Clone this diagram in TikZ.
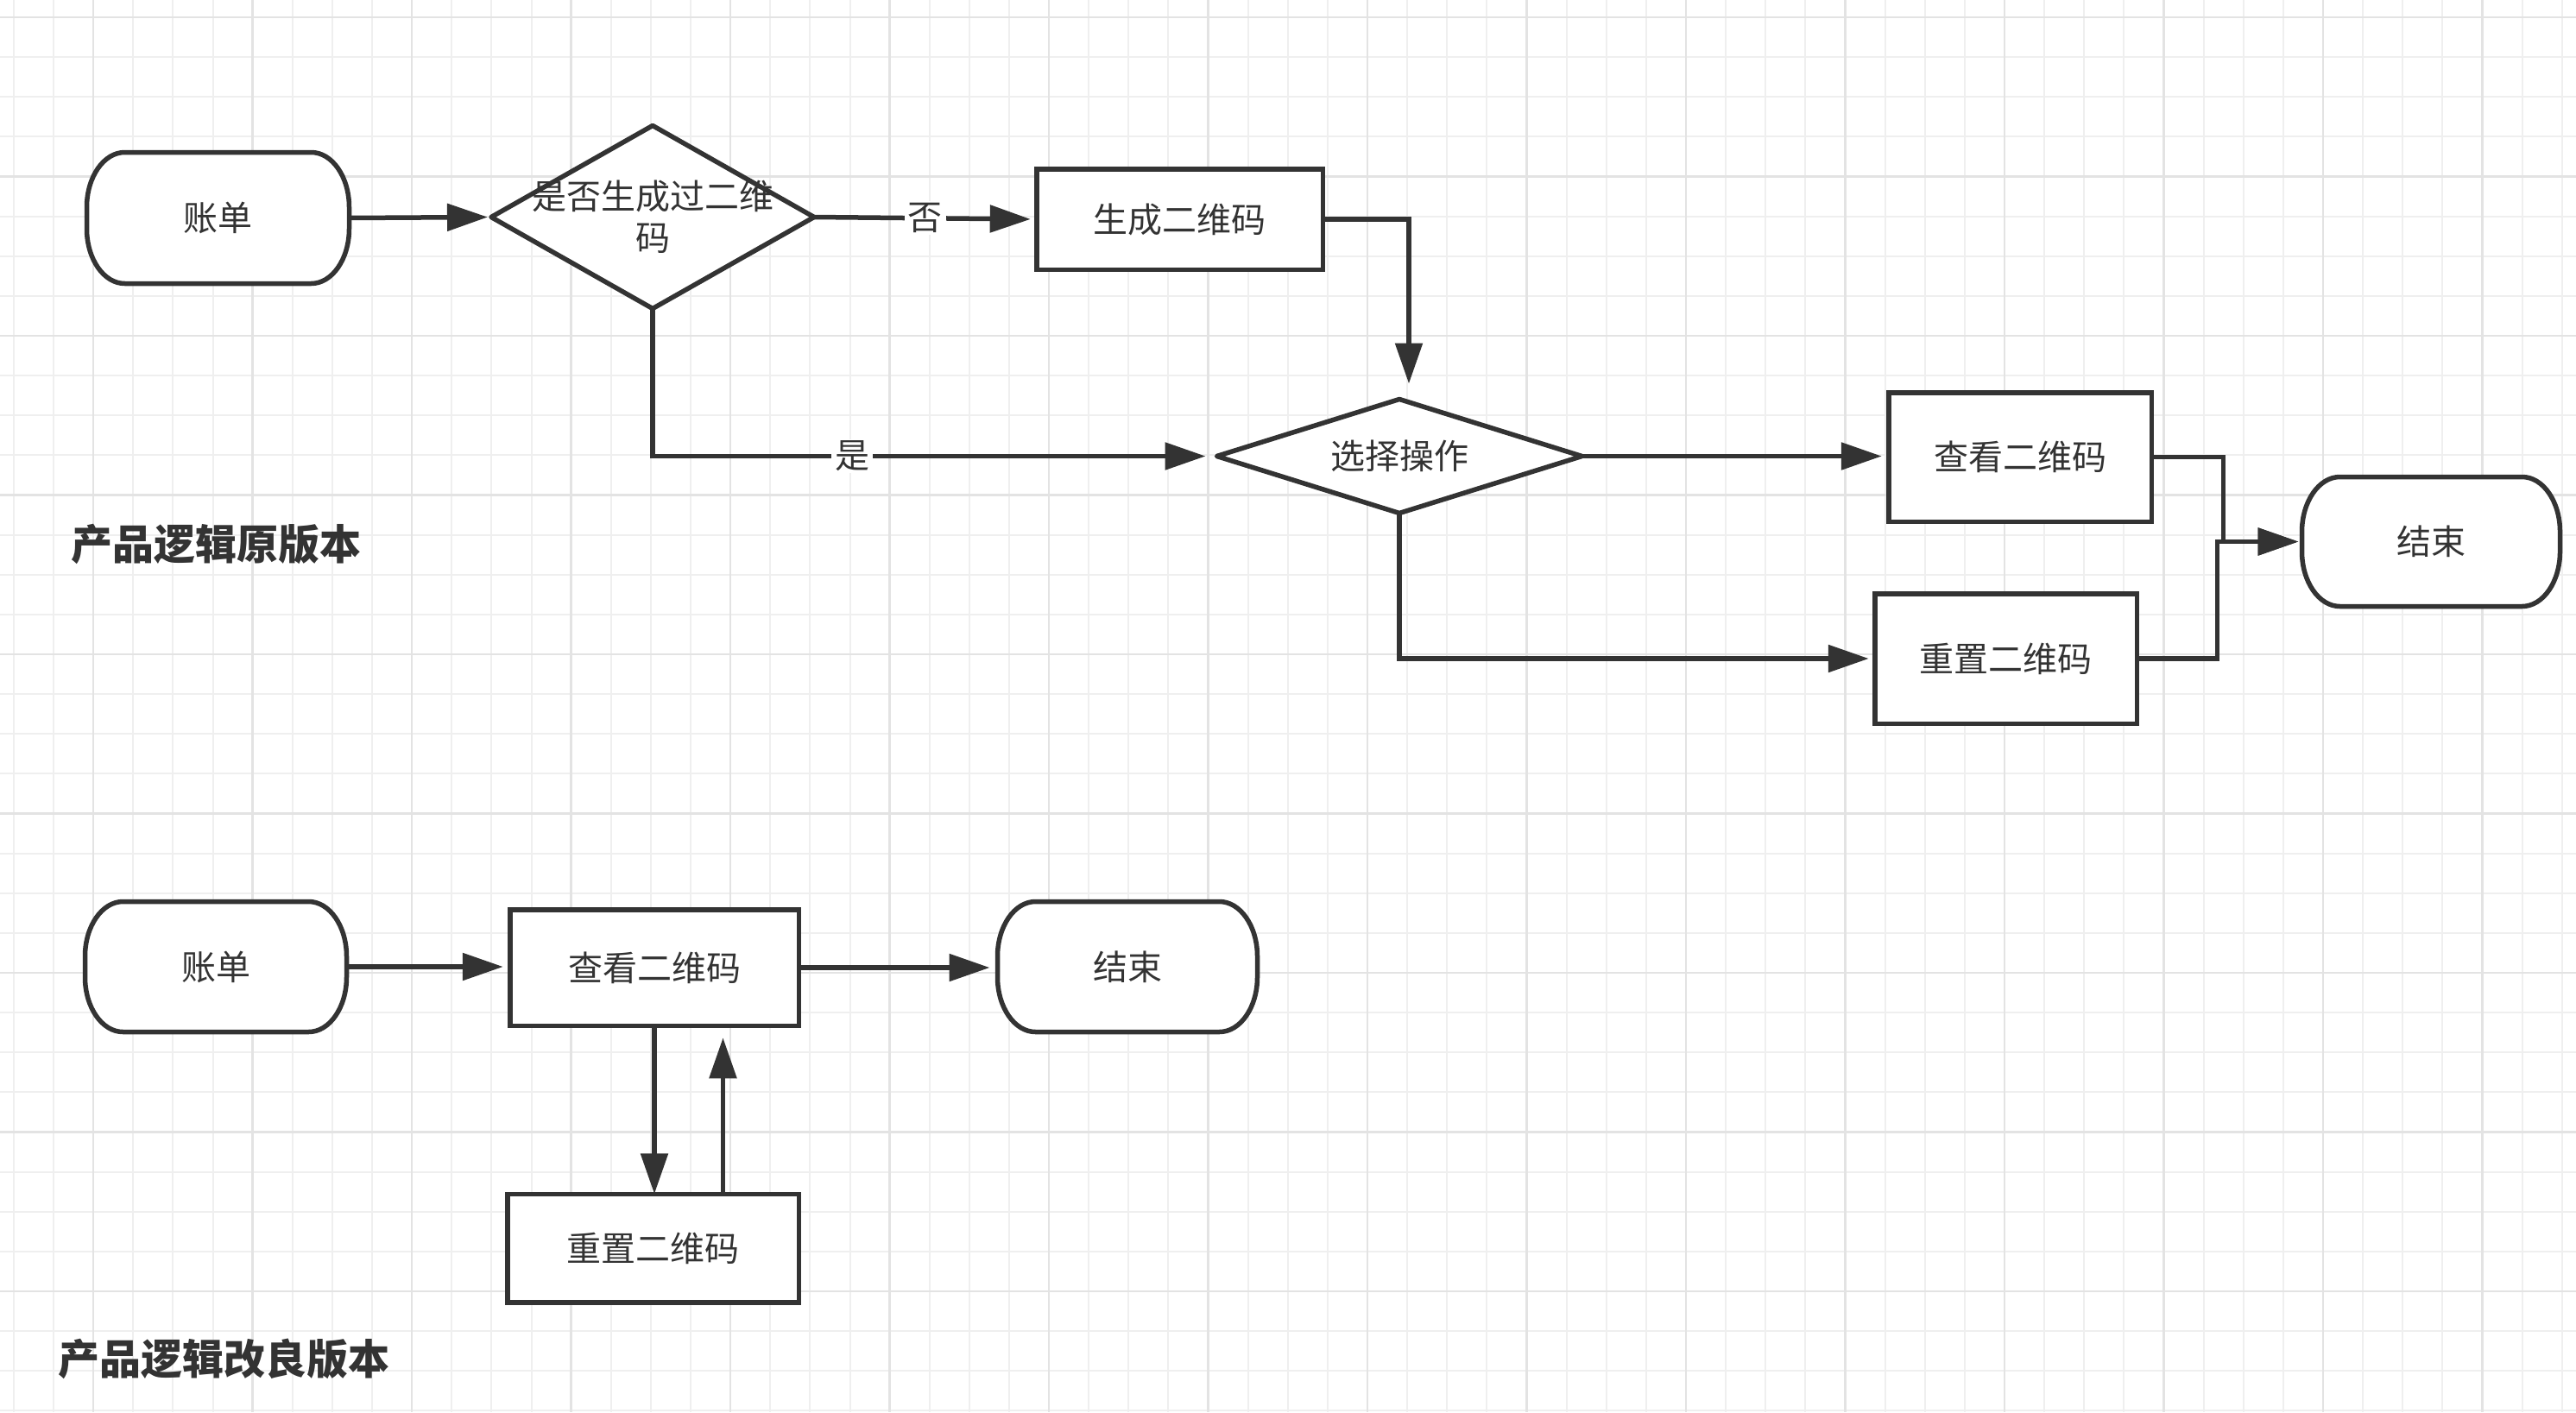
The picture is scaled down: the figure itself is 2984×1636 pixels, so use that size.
\documentclass[tikz,border=0pt]{standalone}
\usepackage{fontspec}
\newfontfamily\cjk{Noto Sans CJK SC}
\usetikzlibrary{arrows.meta}
\definecolor{ink}{HTML}{333333}
\definecolor{gridminor}{HTML}{EFEFEF}
\definecolor{gridmajor}{HTML}{E3E3E3}
\pgfdeclarelayer{bg}
\pgfdeclarelayer{shp}
\pgfsetlayers{bg,shp,main}
\newcommand\termshape[1]{%
  \begin{pgfonlayer}{shp}
  \filldraw[shapeline] ([xshift=44pt]#1.north west) -- ([xshift=-44pt]#1.north east)
    .. controls ([xshift=-19.7pt]#1.north east) and ([yshift=-28.5pt]#1.north east) .. ([yshift=-63.5pt]#1.north east)
    -- ([yshift=63.5pt]#1.south east)
    .. controls ([yshift=28.5pt]#1.south east) and ([xshift=-19.7pt]#1.south east) .. ([xshift=-44pt]#1.south east)
    -- ([xshift=44pt]#1.south west)
    .. controls ([xshift=19.7pt]#1.south west) and ([yshift=28.5pt]#1.south west) .. ([yshift=63.5pt]#1.south west)
    -- ([yshift=-63.5pt]#1.north west)
    .. controls ([yshift=-28.5pt]#1.north west) and ([xshift=19.7pt]#1.north west) .. cycle;
  \end{pgfonlayer}}
\newcommand\diamondshape[1]{%
  \begin{pgfonlayer}{shp}
  \filldraw[shapeline, line join=round] (#1.north) -- (#1.east) -- (#1.south) -- (#1.west) -- cycle;
  \end{pgfonlayer}}
\begin{document}
\begin{tikzpicture}[x=1pt,y=-1pt,
  every node/.style={inner sep=0pt, outer sep=0pt},
  nodefont/.style={font=\cjk\fontsize{40pt}{48pt}\selectfont, text=ink, align=center},
  shapeline/.style={draw=ink, fill=white, line width=5.5pt},
  box/.style={nodefont, draw=ink, fill=white, line width=5.5pt, rectangle},
  ghost/.style={nodefont, rectangle},
  conn/.style={draw=ink, line width=5.5pt, -{Triangle[length=47pt,width=31pt]}},
  lbl/.style={nodefont, fill=white, inner xsep=4pt, inner ysep=2pt},
  title/.style={font=\cjk\bfseries\fontsize{48pt}{56pt}\selectfont, text=ink}
]
\useasboundingbox (0,0) rectangle (2984,1636);
\begin{pgfonlayer}{bg}
  \fill[white] (0,0) rectangle (2984,1636);
  \foreach \i in {0,...,64} {
    \pgfmathsetmacro\xx{16+46.12*\i}
    \draw[gridminor, line width=2pt] (\xx,0) -- (\xx,1636);
  }
  \foreach \i in {0,...,35} {
    \pgfmathsetmacro\yy{20+46.12*\i}
    \draw[gridminor, line width=2pt] (0,\yy) -- (2984,\yy);
  }
  \foreach \i in {0,...,15} {
    \pgfmathsetmacro\xx{108.24+184.48*\i}
    \draw[gridmajor, line width=2.5pt] (\xx,0) -- (\xx,1636);
  }
  \foreach \i in {0,...,8} {
    \pgfmathsetmacro\yy{20+184.48*\i}
    \draw[gridmajor, line width=2.5pt] (0,\yy) -- (2984,\yy);
  }
\end{pgfonlayer}

% ---------- original version ----------
\node[ghost, minimum width=304pt, minimum height=152pt] (t1) at (252.5,252.5) {账单};
\termshape{t1}
\node[ghost, minimum width=374pt, minimum height=212pt] (d1) at (756,251.5) {是否生成过二维\\码};
\diamondshape{d1}
\node[box, minimum width=331.5pt, minimum height=116.5pt] (n1) at (1366.5,254) {生成二维码};
\node[ghost, minimum width=423pt, minimum height=132pt] (d2) at (1621,528.5) {选择操作};
\diamondshape{d2}
\node[box, minimum width=304.5pt, minimum height=149.5pt] (v1) at (2340,529.5) {查看二维码};
\node[box, minimum width=303.5pt, minimum height=150.5pt] (r1) at (2323.5,763) {重置二维码};
\node[ghost, minimum width=299pt, minimum height=150pt] (e1) at (2816,627.5) {结束};
\termshape{e1}
\node[title] (title1) at (250,630) {产品逻辑原版本};

\draw[conn, shorten >=4pt] (t1.east) -- (d1.west);
\draw[conn, shorten >=7pt] (d1.east) -- node[lbl]{否} (n1.west);
\draw[conn] (n1.east) -| ([xshift=11pt,yshift=18pt]d2.north);
\draw[conn, shorten >=13pt] (d1.south) |- node[lbl, pos=0.677]{是} (d2.west);
\draw[conn, shorten >=8pt] (d2.east) -- (d2.east -| v1.west);
\draw[conn, shorten >=7pt] (d2.south) |- (r1.west);
\draw[conn, shorten >=4pt] (v1.east) -- ++(83,0) |- (e1.west);
\draw[conn, shorten >=4pt] (r1.east) -- ++(93,0) |- (e1.west);

% ---------- improved version ----------
\node[ghost, minimum width=303pt, minimum height=151pt] (t2) at (250,1120) {账单};
\termshape{t2}
\node[box, minimum width=334.5pt, minimum height=134.5pt] (v2) at (758,1121) {查看二维码};
\node[ghost, minimum width=301pt, minimum height=151pt] (e2) at (1306,1120) {结束};
\termshape{e2}
\node[box, minimum width=337.5pt, minimum height=125.5pt] (r2) at (756.5,1446) {重置二维码};
\node[title] (title2) at (259.5,1574) {产品逻辑改良版本};

\draw[conn, shorten >=8pt] (t2.east) -- (t2.east -| v2.west);
\draw[conn, shorten >=9pt] (v2.east) -- (v2.east -| e2.west);
\draw[conn] (v2.south) -- (v2.south |- r2.north);
\draw[conn, shorten >=14pt] ([xshift=81pt]r2.north) -- ([xshift=81pt]r2.north |- v2.south);
\end{tikzpicture}
\end{document}
